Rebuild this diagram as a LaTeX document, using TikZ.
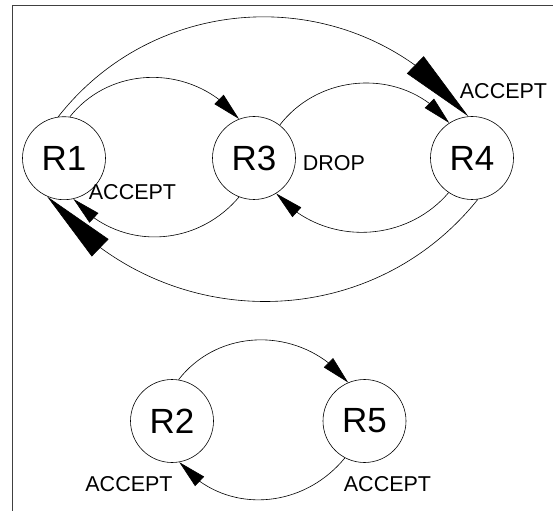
\documentclass[tikz,border=0pt]{standalone}
\usepackage{fontspec}
\setmainfont{Liberation Sans}
\usetikzlibrary{arrows.meta,bending}
\begin{document}
\begin{tikzpicture}[x=1pt,y=1pt,
  router/.style={draw,circle,line width=0.6pt,minimum size=83pt,inner sep=0pt,font=\fontsize{35}{35}\selectfont},
  lbl/.style={inner sep=0pt,font=\fontsize{21.5}{21.5}\selectfont},
  edge/.style={draw,line width=0.6pt},
  med/.style={-{Triangle[length=28pt,width=13pt]}},
  big/.style={-{Triangle[length=74pt,width=24pt]}}]
\useasboundingbox (0,0) rectangle (553,511);
\draw[line width=0.9pt,black!75] (553,505.3) -- (12.3,505.3) -- (12.3,0);
\node[router] (R1) at (64,352.8) {R1};
\node[router] (R3) at (254,353) {R3};
\node[router] (R4) at (472,353) {R4};
\node[router] (R2) at (172,90) {R2};
\node[router] (R5) at (364.5,90) {R5};
\node[lbl] (l1) at (132.5,319) {ACCEPT};
\node[lbl] (l4) at (503.5,420) {ACCEPT};
\node[lbl] (ld) at (334,348) {DROP};
\node[lbl] (l2) at (129,27) {ACCEPT};
\node[lbl] (l5) at (387.5,27) {ACCEPT};
\draw[edge,big] (R1.98) to[out=51.9,in=128.1,distance=169pt] (R4.95);
\draw[edge,med] (R1.82) to[out=51.5,in=128.5,distance=69pt] (R3.111);
\draw[edge,med] (R3.52) to[out=52.4,in=127.6,distance=69pt] (R4.123);
\draw[edge,med] (R4.236.6) to[out=229.4,in=310.6,distance=69pt] (R3.302.6);
\draw[edge,med] (R3.249) to[out=229.8,in=310.2,distance=68pt] (R1.283);
\draw[edge,big] (R4.278) to[out=231.3,in=308.7,distance=177pt] (R1.246);
\draw[edge,med] (R2.81) to[out=52.2,in=127.8,distance=69.6pt] (R5.113.5);
\draw[edge,med] (R5.242.6) to[out=230.7,in=309.3,distance=68.5pt] (R2.280);
\end{tikzpicture}
\end{document}
